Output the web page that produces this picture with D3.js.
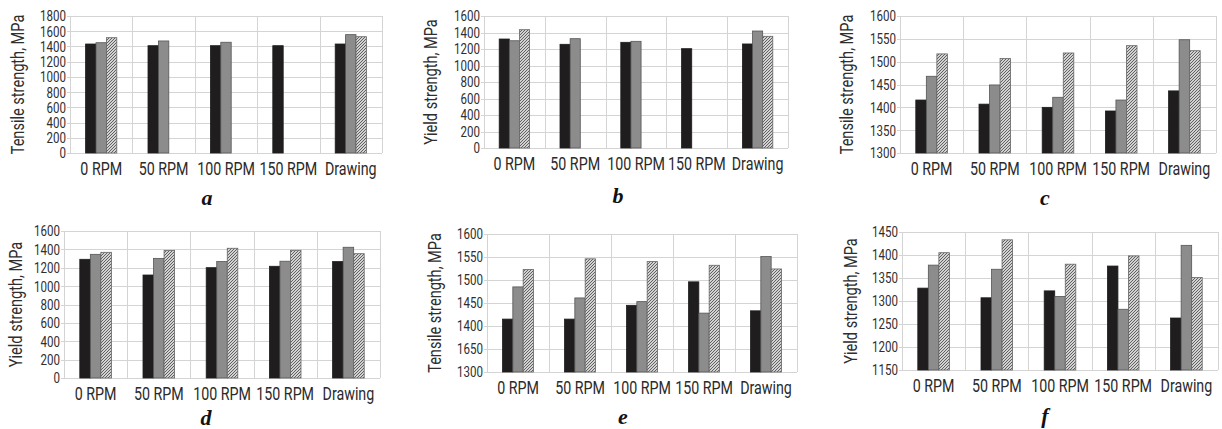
<!DOCTYPE html>
<html>
<head>
<meta charset="utf-8">
<script src="https://cdn.jsdelivr.net/npm/d3@7"></script>
<style>
  body { margin: 0; background: #fff; }
  svg { display: block; }
  .tick-label { font-family: Roboto, "DejaVu Sans", sans-serif; font-size: 15px; fill: #2e2e2e; }
  .cat-label { font-family: Roboto, "DejaVu Sans", sans-serif; font-size: 18.5px; fill: #2a2a2a; }
  .axis-title { font-family: Roboto, "DejaVu Sans", sans-serif; font-size: 18px; fill: #2e2e2e; }
  .panel-letter { font-family: "Liberation Serif", "DejaVu Serif", serif; font-size: 22px; font-weight: bold; font-style: italic; fill: #111; }
</style>
</head>
<body>
<div id="chart"></div>
<script>
// Six bar panels: tensile / yield strength by rotation speed
const categories = ['0 RPM', '50 RPM', '100 RPM', '150 RPM', 'Drawing'];
const seriesKeys = ['black', 'gray', 'hatch'];

// panel a - tensile strength
const aBlack = [1432, 1410, 1410, 1410, 1432];
const aGray  = [1449, 1472, 1455, null, 1555];
const aHatch = [1515, null, null, null, 1528];
const aTicks = [0, 200, 400, 600, 800, 1000, 1200, 1400, 1600, 1800];

// panel b - yield strength
const bBlack = [1321, 1257, 1281, 1204, 1261];
const bGray  = [1300, 1325, 1293, null, 1418];
const bHatch = [1434, null, null, null, 1354];
const bTicks = [0, 200, 400, 600, 800, 1000, 1200, 1400, 1600];

// panel c - tensile strength
const cBlack = [1416, 1407, 1400, 1392, 1436];
const cGray  = [1468, 1449, 1422, 1416, 1548];
const cHatch = [1517, 1507, 1519, 1535, 1524];
const cTicks = [1300, 1350, 1400, 1450, 1500, 1550, 1600];

// panel d - yield strength
const dBlack = [1292, 1121, 1201, 1216, 1267];
const dGray  = [1346, 1302, 1267, 1271, 1423];
const dHatch = [1368, 1389, 1412, 1390, 1353];
const dTicks = [0, 200, 400, 600, 800, 1000, 1200, 1400, 1600];

// panel e - tensile strength (tick label "1650" printed as in the source)
const eBlack = [1415, 1415, 1445, 1496, 1433];
const eGray  = [1485, 1461, 1453, 1428, 1551];
const eHatch = [1523, 1546, 1540, 1532, 1524];
const eTicks = [1300, 1350, 1400, 1450, 1500, 1550, 1600];
const eTickLabels = ['1300', '1650', '1400', '1450', '1500', '1550', '1600'];

// panel f - yield strength
const fBlack = [1328, 1307, 1322, 1376, 1263];
const fGray  = [1378, 1369, 1310, 1282, 1421];
const fHatch = [1405, 1433, 1380, 1398, 1351];
const fTicks = [1150, 1200, 1250, 1300, 1350, 1400, 1450];

// condensed look: squeeze text horizontally
const TICK_SX = 0.77, CAT_SX = 0.77, TITLE_SX = 0.81;

const svg = d3.select('#chart').append('svg')
    .attr('width', 1222)
    .attr('height', 429);

// hatch pattern for the third series
const defs = svg.append('defs');
const pat = defs.append('pattern')
    .attr('id', 'hatch')
    .attr('patternUnits', 'userSpaceOnUse')
    .attr('width', 3)
    .attr('height', 3);
pat.append('rect').attr('width', 3).attr('height', 3).attr('fill', '#d2d2d2');
pat.append('path')
    .attr('d', 'M-0.75,0.75 l1.5,-1.5 M0,3 l3,-3 M2.25,3.75 l1.5,-1.5')
    .attr('stroke', '#555')
    .attr('stroke-width', 0.9);

const fills = { black: '#1f1d1e', gray: '#8c8c8c', hatch: 'url(#hatch)' };
const strokes = { black: '#1f1d1e', gray: '#555', hatch: '#666' };

const panels = [
    { letter: 'a', title: 'Tensile strength, MPa', box: [70, 16, 382, 153], ticks: aTicks, series: [aBlack, aGray, aHatch], titleX: 24, letterX: 207, letterY: 205 },
    { letter: 'b', title: 'Yield strength, MPa', box: [484, 16, 788, 148], ticks: bTicks, series: [bBlack, bGray, bHatch], titleX: 437, letterX: 618, letterY: 203 },
    { letter: 'c', title: 'Tensile strength, MPa', box: [900, 16, 1216, 153], ticks: cTicks, series: [cBlack, cGray, cHatch], titleX: 853, letterX: 1045, letterY: 205 },
    { letter: 'd', title: 'Yield strength, MPa', box: [64, 231, 380, 378], ticks: dTicks, series: [dBlack, dGray, dHatch], titleX: 22, letterX: 206, letterY: 425 },
    { letter: 'e', title: 'Tensile strength, MPa', box: [487, 234, 797, 372], ticks: eTicks, tickLabels: eTickLabels, series: [eBlack, eGray, eHatch], titleX: 441, letterX: 623, letterY: 424 },
    { letter: 'f', title: 'Yield strength, MPa', box: [902, 232, 1218, 370], ticks: fTicks, series: [fBlack, fGray, fHatch], titleX: 857, letterX: 1045, letterY: 423 }
];

panels.forEach(drawPanel);

function drawPanel(p) {
    const [x0px, y0px, x1px, y1px] = p.box;
    const g = svg.append('g');

    const x0 = d3.scaleBand()
        .domain(categories)
        .range([x0px, x1px])
        .paddingInner(0)
        .paddingOuter(0);

    const x1 = d3.scaleBand()
        .domain(seriesKeys)
        .range([0, x0.bandwidth()])
        .paddingInner(0)
        .paddingOuter(1.5);

    const y = d3.scaleLinear()
        .domain(d3.extent(p.ticks))
        .range([y1px, y0px]);

    // horizontal gridlines (with short outward ticks)
    g.append('g')
        .selectAll('line')
        .data(p.ticks)
        .join('line')
        .attr('x1', x0px - 3)
        .attr('x2', x1px)
        .attr('y1', d => Math.round(y(d)) + 0.5)
        .attr('y2', d => Math.round(y(d)) + 0.5)
        .attr('stroke', '#d4d4d4')
        .attr('stroke-width', 1);

    // vertical gridlines at category borders + frame sides
    const vx = categories.map(c => x0(c)).concat([x1px]);
    g.append('g')
        .selectAll('line')
        .data(vx)
        .join('line')
        .attr('x1', d => Math.round(d) + 0.5)
        .attr('x2', d => Math.round(d) + 0.5)
        .attr('y1', y0px)
        .attr('y2', y1px)
        .attr('stroke', '#d4d4d4')
        .attr('stroke-width', 1);

    // bars
    const rows = [];
    categories.forEach((c, i) => {
        seriesKeys.forEach((k, j) => {
            const v = p.series[j][i];
            if (v != null) rows.push({ cat: c, key: k, value: v });
        });
    });

    g.append('g')
        .selectAll('rect')
        .data(rows)
        .join('rect')
        .attr('x', d => x0(d.cat) + x1(d.key))
        .attr('y', d => y(d.value))
        .attr('width', x1.bandwidth())
        .attr('height', d => y1px - y(d.value))
        .attr('fill', d => fills[d.key])
        .attr('stroke', d => strokes[d.key])
        .attr('stroke-width', 0.8);

    // y tick labels
    g.append('g')
        .selectAll('text')
        .data(p.ticks)
        .join('text')
        .attr('class', 'tick-label')
        .attr('transform', d => `translate(${x0px - 4},${y(d)}) scale(${TICK_SX},1)`)
        .attr('dy', '0.36em')
        .attr('text-anchor', 'end')
        .text((d, i) => p.tickLabels ? p.tickLabels[i] : d);

    // category labels
    g.append('g')
        .selectAll('text')
        .data(categories)
        .join('text')
        .attr('class', 'cat-label')
        .attr('transform', d => `translate(${x0(d) + x0.bandwidth() / 2},${y1px + 22}) scale(${CAT_SX},1)`)
        .attr('text-anchor', 'middle')
        .text(d => d);

    // y axis title
    g.append('text')
        .attr('class', 'axis-title')
        .attr('transform', `translate(${p.titleX},${(y0px + y1px) / 2}) rotate(-90) scale(${TITLE_SX},1)`)
        .attr('text-anchor', 'middle')
        .text(p.title);

    // panel letter
    g.append('text')
        .attr('class', 'panel-letter')
        .attr('x', p.letterX)
        .attr('y', p.letterY)
        .attr('text-anchor', 'middle')
        .text(p.letter);
}
</script>
</body>
</html>
